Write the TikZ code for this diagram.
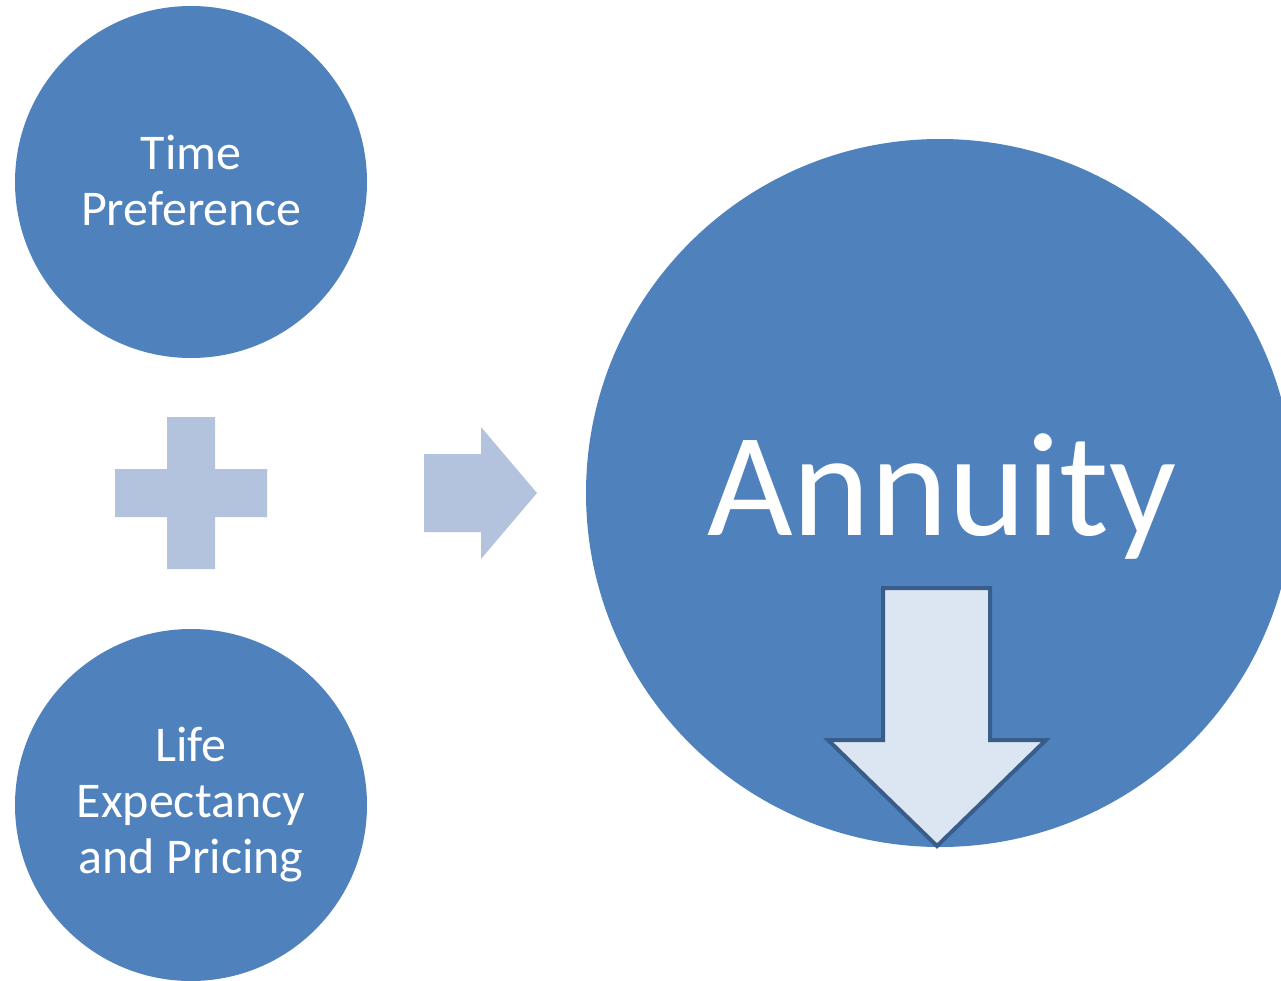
\documentclass[tikz,border=0pt]{standalone}
\usepackage{fontspec}
\setmainfont{Carlito}
\definecolor{circblue}{HTML}{4F81BD}
\definecolor{lightop}{HTML}{B3C3DD}
\definecolor{arrfill}{HTML}{DCE6F2}
\definecolor{arrline}{HTML}{385D8A}
\begin{document}
\begin{tikzpicture}[x=1pt,y=-1pt,
  bubble/.style={circle,fill=circblue,draw=none,inner sep=0pt,text=white,align=center},
  optext/.style={fill=lightop,draw=none},
  smalltxt/.style={text=white,align=center,inner sep=0pt,font=\fontsize{50}{56}\selectfont}]
\useasboundingbox (0,0) rectangle (1281,981);
\clip (0,0) rectangle (1281,981);
\node[bubble,minimum size=352pt] (tp) at (191,182) {};
\node[smalltxt] (tptxt) at (191,180) {Time\\Preference};
\node[bubble,minimum size=352pt] (le) at (191,805) {};
\node[smalltxt] (letxt) at (191,805) {Life\\Expectancy\\and Pricing};
\node[bubble,minimum size=708pt] (an) at (940,493) {};
\node[text=white,font=\fontsize{148}{150}\selectfont,anchor=base] (antxt) at (942,535) {Annuity};
% plus sign
\fill[optext] (167,417) -- (215,417) -- (215,469) -- (267,469) -- (267,517) -- (215,517) -- (215,569) -- (167,569) -- (167,517) -- (115,517) -- (115,469) -- (167,469) -- cycle;
% right arrow
\fill[optext] (424,454) -- (481,454) -- (481,427) -- (537,493) -- (481,559) -- (481,532) -- (424,532) -- cycle;
% down arrow
\draw[fill=arrfill,draw=arrline,line width=4pt,line join=miter] (883,588) -- (990,588) -- (990,740) -- (1046,740) -- (937,846) -- (828,740) -- (883,740) -- cycle;
\end{tikzpicture}
\end{document}
